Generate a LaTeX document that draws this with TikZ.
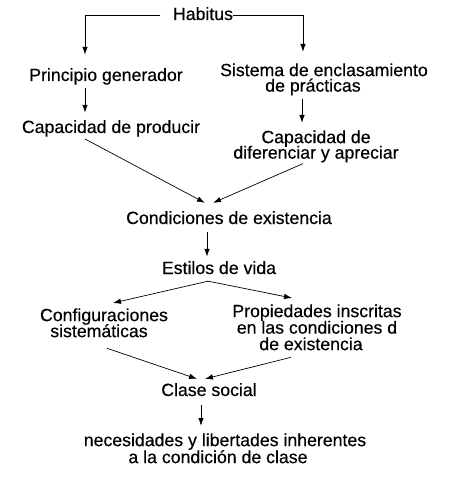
\documentclass[tikz,border=0pt]{standalone}
\usepackage{fontspec}
\setmainfont{Liberation Sans}[UprightFeatures={FakeBold=0.35}]
\usetikzlibrary{arrows.meta}
\newcommand\ideafont[1]{\fontsize{17.7pt}{#1pt}\selectfont\lineskiplimit=-100pt\relax}

\begin{document}
\begin{tikzpicture}[
  x=1pt,y=-1pt,
  >={Latex[length=8pt,width=5.5pt]},
  idea/.style={inner sep=0pt,outer sep=0pt,align=center,font={\ideafont{#1}}},
  idea/.default=16,
  down/.style={->,line width=1pt},
  slant/.style={->,line width=0.7pt}
]
  \useasboundingbox (0,0) rectangle (457,478);

  % concepts, top to bottom
  \node[idea,anchor=base] (habitus) at (203,20) {Habitus};
  \node[idea,anchor=base] (princ) at (106,81) {Principio generador};
  \node[idea=15.5,anchor=north] (sistema) at (324,63.3)
    {Sistema de enclasamiento\\de prácticas\hspace*{22pt}};
  \node[idea,anchor=base] (prod) at (111,133) {Capacidad de producir};
  \node[idea=15.5,anchor=north] (difer) at (316,130.3)
    {Capacidad de\\diferenciar y apreciar};
  \node[idea,anchor=base] (cond) at (229,224) {Condiciones de existencia};
  \node[idea,anchor=base] (estilos) at (219,274) {Estilos de vida};
  \node[idea=16,anchor=north] (config) at (104,308.3)
    {Configuraciones\\sistemáticas\hspace*{10pt}};
  \node[idea=16.5,anchor=north] (propied) at (317,304.3)
    {Propiedades inscritas\\en las condiciones d\\de existencia\hspace*{12pt}};
  \node[idea,anchor=base] (clase) at (209,396) {Clase social};
  \node[idea=17,anchor=north] (neces) at (225,433.3)
    {necesidades y libertades inherentes\\a la condición de clase\hspace*{14pt}};

  % branches out of the habitus
  \draw[down] ([shift={(-12.5,-4)}]habitus.base west)
    -| ([shift={(-21,-13.3)}]princ.north);
  \draw[down] ([shift={(0,-4)}]habitus.base east)
    -| ([shift={(-21,-11.3)}]sistema.north);
  \draw[down] ([shift={(-21,3.3)}]princ.south) -- ([shift={(-26,-7.3)}]prod.north);
  \draw[down] ([shift={(-22,3.3)}]sistema.south) -- ([shift={(-14,-7.3)}]difer.north);

  % both capacities meet
  \draw[slant] ([shift={(-26,2.3)}]prod.south) -- ([shift={(-24,-8.3)}]cond.north);
  \draw[slant] ([shift={(-13,1.3)}]difer.south) -- ([shift={(-16,-8.3)}]cond.north);
  \draw[down] ([shift={(-22,8)}]cond.south) -- ([shift={(-12,-4.3)}]estilos.north);

  \draw[slant] ([shift={(-11,7)}]estilos.south) -- ([shift={(9,-5.3)}]config.north);
  \draw[slant] ([shift={(-11,7)}]estilos.south) -- ([shift={(-25,-6.3)}]propied.north);
  \draw[slant] ([shift={(3,11)}]config.south) -- ([shift={(-12,-4.3)}]clase.north);
  \draw[slant] ([shift={(-26,7)}]propied.south) -- ([shift={(-4,-4.3)}]clase.north);
  \draw[down] ([shift={(-8,9)}]clase.south) -- ([shift={(-24,-7.3)}]neces.north);
\end{tikzpicture}
\end{document}
